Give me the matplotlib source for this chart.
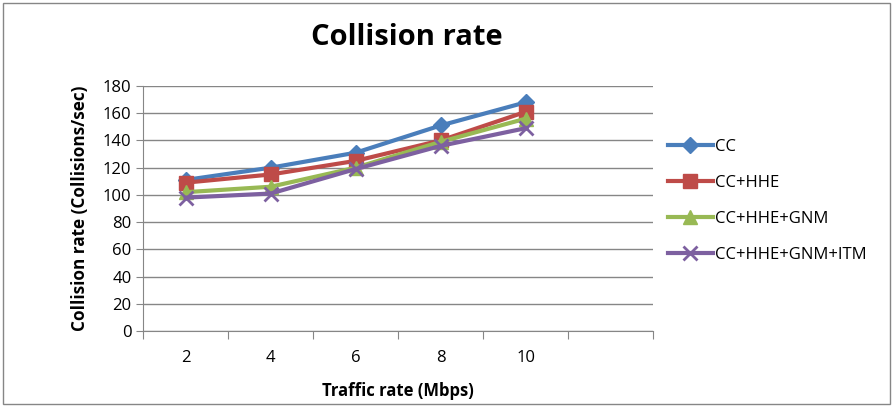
import numpy as np
import matplotlib.pyplot as plt
from matplotlib.patches import Rectangle

# Collision rate vs traffic rate
traffic = [2, 4, 6, 8, 10]
cc = [111, 120, 131, 151, 168]
cc_hhe = [109, 115, 125, 140, 161]
cc_hhe_gnm = [102, 106, 120, 139, 156]
cc_hhe_gnm_itm = [98, 101, 119, 136, 149]

series = [
    ("CC", cc, "#4A7EBB", "D", 8),
    ("CC+HHE", cc_hhe, "#BE4B48", "s", 10),
    ("CC+HHE+GNM", cc_hhe_gnm, "#98B954", "^", 10),
    ("CC+HHE+GNM+ITM", cc_hhe_gnm_itm, "#7D60A0", "x", 10),
]

plt.rcParams['font.family'] = ['Open Sans', 'DejaVu Sans']

fig = plt.figure(figsize=(8.95, 4.12), dpi=100)
ax = fig.add_axes([0.160, 0.1966, 0.5696, 0.5946])

x = np.arange(len(traffic))
for name, vals, col, mk, ms in series:
    ax.plot(x, vals, color=col, lw=3, marker=mk, markersize=ms,
            markeredgewidth=2 if mk == "x" else 1, markeredgecolor=col,
            label=name)

ax.set_xlim(-0.5, 5.5)
ax.set_ylim(0, 180)
ax.set_yticks(range(0, 181, 20))
ax.yaxis.grid(True, color="#868686", lw=1)
ax.set_axisbelow(True)

# category boundaries as major ticks, labels at centres
ax.set_xticks(np.arange(-0.5, 6.0, 1.0))
ax.set_xticklabels([])
ax.set_xticks(x, minor=True)
ax.set_xticklabels([str(t) for t in traffic], minor=True)
ax.tick_params(axis="x", which="major", length=6, color="#868686", direction="out")
ax.tick_params(axis="x", which="minor", length=0, pad=14, labelsize=12)
ax.tick_params(axis="y", length=5, color="#868686", labelsize=12)

for s in ["top", "right"]:
    ax.spines[s].set_visible(False)
for s in ["left", "bottom"]:
    ax.spines[s].set_color("#868686")

ax.set_xlabel("Traffic rate (Mbps)", fontsize=12, fontweight="bold", labelpad=11)
ax.set_ylabel("Collision rate (Collisions/sec)", fontsize=12.3, fontweight="bold", labelpad=10)

fig.text(0.455, 0.91, "Collision rate", ha="center", va="center",
         fontsize=21, fontweight="bold")

ax.legend(loc="center left", bbox_to_anchor=(1.0, 0.53), frameon=False,
          fontsize=12, handlelength=2.7, handletextpad=0.1, labelspacing=1.2)

fig.patches.append(Rectangle((0.003, 0.02), 0.991, 0.972, transform=fig.transFigure,
                             fill=False, edgecolor="#868686", lw=1))

fig.savefig("out.png", dpi=100)
